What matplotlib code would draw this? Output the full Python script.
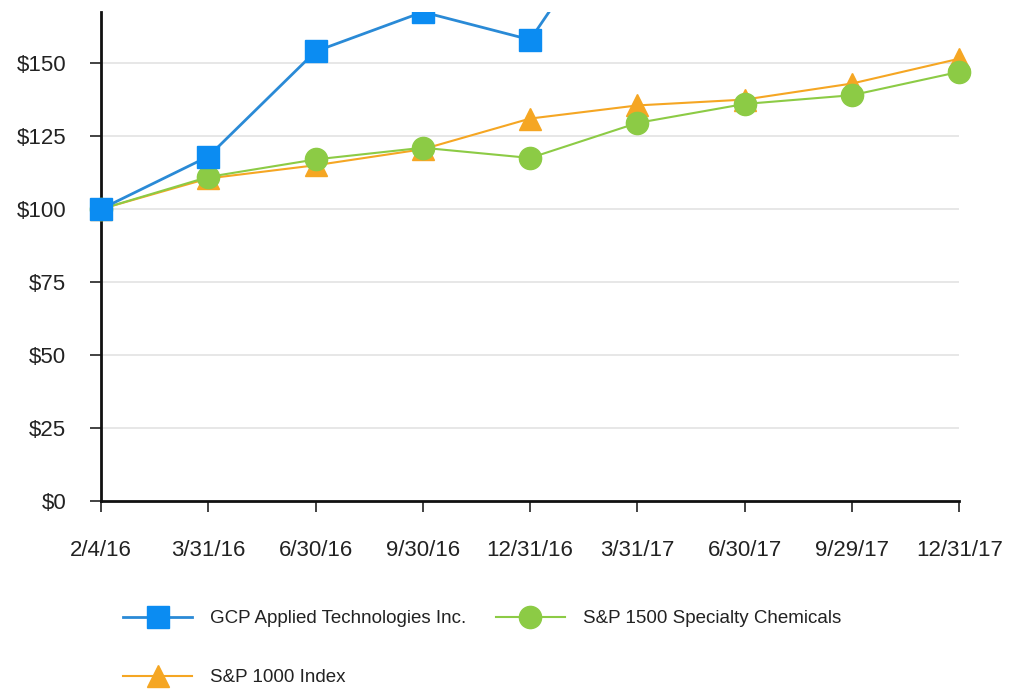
import matplotlib
matplotlib.use("Agg")
import matplotlib.pyplot as plt
from matplotlib.ticker import FuncFormatter
from matplotlib.patches import Rectangle

plt.rcParams['font.family'] = ['Liberation Sans', 'DejaVu Sans']

dates = ["2/4/16", "3/31/16", "6/30/16", "9/30/16", "12/31/16",
         "3/31/17", "6/30/17", "9/29/17", "12/31/17"]
gcp = [100, 118, 154, 167.5, 158, 212, 218, 232, 265]
spec_chem = [100, 111, 117, 121, 117.5, 129.5, 136, 139, 147]
sp1000 = [100, 110.5, 115, 120.5, 131, 135.5, 137.5, 143, 151.5]
yticks = [0, 25, 50, 75, 100, 125, 150]

fig = plt.figure(figsize=(10.11, 6.9), dpi=100)
ax = fig.add_axes([101/1011, 189/690, 869/1011, 489/690])

x = list(range(len(dates)))
ax.hlines(yticks[1:], 0, len(dates) - 1, colors='#e3e3e3', linewidth=1.2, zorder=0)

l_o, = ax.plot(x, sp1000, color='#F5A623', linewidth=1.5, marker='^', markersize=16,
               markerfacecolor='#F5A623', markeredgecolor='#F5A623', zorder=3,
               label='S&P 1000 Index')
l_g, = ax.plot(x, spec_chem, color='#8CCB45', linewidth=1.5, marker='o', markersize=16,
               markerfacecolor='#8CCB45', markeredgecolor='#8CCB45', zorder=4,
               label='S&P 1500 Specialty Chemicals')
l_b, = ax.plot(x, gcp, color='#2A8AD6', linewidth=2, marker='s', markersize=15.5,
               markerfacecolor='#0B8CF2', markeredgecolor='#0B8CF2', zorder=5,
               label='GCP Applied Technologies Inc.')

clip = Rectangle((-0.1, -0.1), 1.2, 1.1, transform=ax.transAxes, visible=False)
ax.add_patch(clip)
for ln in (l_o, l_g, l_b):
    ln.set_clip_path(clip)

ax.set_xlim(0, 8.1)
ax.set_ylim(0, 167.5)
ax.set_xticks(x)
ax.set_xticklabels(dates)
ax.set_yticks(yticks)
ax.yaxis.set_major_formatter(FuncFormatter(lambda v, p: f"${v:.0f}"))
ax.tick_params(axis='both', labelsize=16, colors='#222222', length=8, width=1.2)
ax.tick_params(axis='x', pad=20)
ax.tick_params(axis='y', pad=17)
for s in ['top', 'right']:
    ax.spines[s].set_visible(False)
for s in ['left', 'bottom']:
    ax.spines[s].set_linewidth(2)
    ax.spines[s].set_color('#111111')
ax.spines['bottom'].set_bounds(0, 8)

leg = fig.legend(handles=[l_b, l_o, l_g], loc='upper left',
                 bbox_to_anchor=(123/1011, 1 - 610/690), ncol=2, frameon=False,
                 borderpad=0, borderaxespad=0,
                 fontsize=13.5, handlelength=3.7, handletextpad=0.95,
                 columnspacing=1.55, labelspacing=2.25, markerscale=1.0)
for t in leg.get_texts():
    t.set_color('#222222')

fig.savefig("out.png", dpi=100)
